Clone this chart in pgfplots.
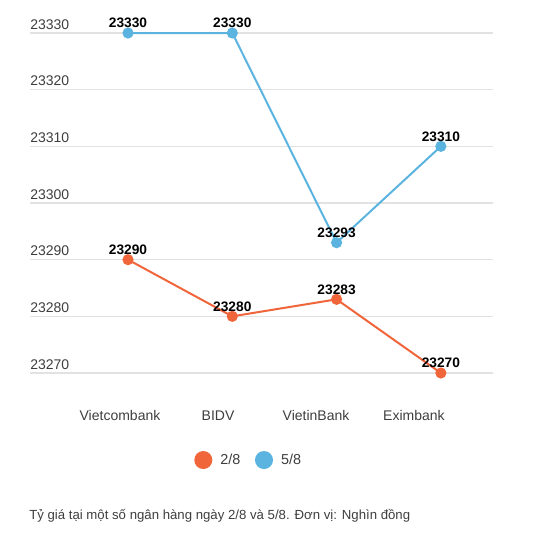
\documentclass[border=0pt]{standalone}
\usepackage{pgfplots}
\pgfplotsset{compat=1.18}
\usepackage{fontspec}
\setmainfont{Liberation Sans}

\definecolor{cOrange}{HTML}{F0653A}
\definecolor{cBlue}{HTML}{5BB4E0}
\definecolor{cGrid}{HTML}{E2E2E2}
\definecolor{cText}{HTML}{3E3E3E}

\pgfplotstableread{
x  d28    d58
0  23290  23330
1  23280  23330
2  23283  23293
3  23270  23310
}\rates

\begin{document}
\begin{tikzpicture}
% canvas 556 x 549 px at 0.75pt per px, origin top-left
\path[use as bounding box] (0pt,0pt) rectangle (417pt,-411.75pt);
\begin{axis}[
    at={(22.5pt,-279.75pt)}, anchor=south west,
    scale only axis,
    width=347.25pt, height=255pt,
    xmin=-0.94, xmax=3.5,
    ymin=23270, ymax=23330,
    scaled y ticks=false,
    ytick={23270,23280,...,23330},
    yticklabels={23270,23280,23290,23300,23310,23320,23330},
    % category names sit on a slightly narrower band than the points
    xtick={-0.077,0.863,1.803,2.742},
    xticklabels={Vietcombank,BIDV,VietinBank,Eximbank},
    axis line style={draw=none},
    major tick length=0pt,
    ymajorgrids,
    grid style={cGrid, line width=0.9pt},
    clip=false,
    ticklabel style={font=\fontsize{10.5}{12}\selectfont, text=cText},
    yticklabel style={anchor=south west, inner sep=0pt, xshift=0pt, yshift=2.5pt},
    xticklabel style={anchor=base, inner sep=0pt, yshift=-35.5pt},
    nodes near coords,
    point meta=explicit symbolic,
    nodes near coords style={font=\bfseries\fontsize{10.3}{12}\selectfont, text=black, anchor=south, inner sep=0pt, yshift=3pt},
    legend columns=2,
    legend style={draw=none, at={(0.473,-0.256)}, anchor=center,
        font=\fontsize{10.8}{12}\selectfont, text=cText,
        /tikz/every odd column/.append style={column sep=4pt},
        /tikz/every even column/.append style={column sep=9pt}},
    legend image code/.code={\fill[#1] (0pt,0pt) circle (6pt);},
]
\addplot[cOrange, line width=1.5pt, mark=*, mark size=3.4pt, mark options={solid}]
    table[x=x, y=d28, meta=d28] {\rates};
\addlegendentry{2/8}
\addplot[cBlue, line width=1.5pt, mark=*, mark size=3.4pt, mark options={solid}]
    table[x=x, y=d58, meta=d58] {\rates};
\addlegendentry{5/8}
\end{axis}
\node[anchor=west, inner sep=0pt, text=cText, font=\fontsize{9.9}{12}\selectfont] at (21.75pt,-387pt)
    {Tỷ giá tại một số ngân hàng ngày 2/8 và 5/8. Đơn vị: Nghìn đồng};
\end{tikzpicture}
\end{document}
